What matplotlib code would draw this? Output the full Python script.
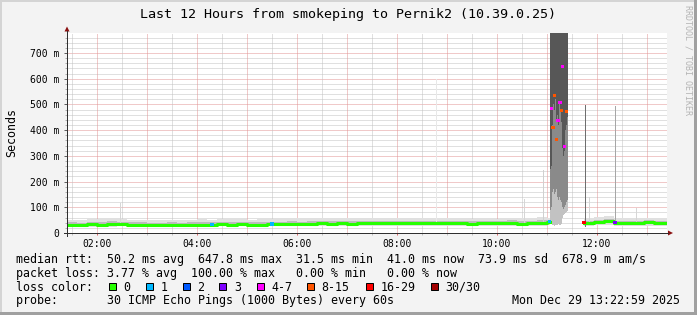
import numpy as np
import matplotlib
matplotlib.use('Agg')
import matplotlib.pyplot as plt
from matplotlib.patches import Rectangle, Polygon
from matplotlib.lines import Line2D

W, H = 697, 315
MONO = 'DejaVu Sans Mono'

# RTT values in ms
# segment before the outage: one value per 12 minutes starting 01:24
t_a0, dt_a, t_a_end = 1.4, 0.2, 11.06
med_a = [33, 32, 34, 33, 36, 34, 33, 33, 33, 32,
         33, 32, 33, 33, 33, 34, 33, 34, 33, 33,
         34, 35, 36, 35, 36, 37, 36, 37, 36, 37,
         37, 38, 37, 38, 37, 38, 38, 37, 38, 37,
         36, 37, 38, 37, 38, 36, 38, 39, 41]
lo_a = [26, 25, 24, 26, 25, 26, 25, 26, 27, 26,
        26, 25, 26, 27, 26, 26, 27, 26, 26, 27,
        26, 27, 28, 27, 28, 27, 28, 27, 28, 27,
        28, 29, 28, 28, 27, 28, 29, 28, 28, 27,
        28, 27, 28, 29, 28, 27, 28, 29, 30]
hi_a = [52, 50, 55, 54, 57, 56, 52, 51, 50, 49,
        51, 50, 52, 53, 51, 54, 55, 53, 52, 54,
        56, 55, 57, 58, 60, 57, 58, 56, 59, 57,
        58, 60, 56, 58, 57, 59, 60, 57, 58, 56,
        55, 57, 58, 56, 59, 57, 60, 62, 58]
core_lo_a = [30, 29, 30, 29, 31, 30, 29, 29, 29, 28,
             29, 28, 29, 29, 29, 30, 29, 30, 29, 29,
             30, 31, 32, 31, 32, 33, 32, 33, 32, 33,
             33, 34, 33, 34, 33, 34, 34, 33, 34, 33,
             32, 33, 34, 33, 34, 32, 34, 35, 36]
core_hi_a = [41, 40, 43, 41, 45, 42, 41, 41, 40, 40,
             41, 40, 41, 42, 41, 43, 42, 43, 41, 42,
             43, 44, 46, 44, 46, 47, 45, 47, 45, 46,
             47, 48, 46, 48, 46, 48, 48, 46, 48, 46,
             45, 47, 48, 46, 49, 45, 48, 50, 50]

# outage 11:04 - 11:24, one column per 72 s, smoke runs off the top
t_out0, dt_out = 11.05, 0.02
out_lo = [45, 40, 30, 30, 28, 30, 30, 32, 35, 33, 30, 35, 60, 70, 75, 78, 80, 85]
out_mid = [90, 100, 160, 170, 150, 160, 170, 140, 130, 140, 130, 120, 100, 95, 100, 110, 120, 130]
out_core = [250, 260, 420, 500, 480, 520, 440, 460, 420, 500, 470, 430, 330, 300, 320, 400, 420, 450]
out_top = 800

# after the gap: 12 minute values from 11:44
t_c0, dt_c, t_c_end = 11.74, 0.2, 13.40
med_c = [40, 42, 45, 40, 40, 39, 41, 38, 39]
lo_c = [28, 30, 31, 28, 29, 28, 29, 27, 28]
hi_c = [60, 62, 65, 58, 59, 57, 60, 56, 58]
core_lo_c = [34, 36, 38, 34, 34, 33, 35, 33, 33]
core_hi_c = [47, 50, 53, 47, 48, 46, 49, 45, 47]

# single smoke spikes
spike_t = [2.46, 8.78, 10.54, 10.92, 11.76, 11.84, 12.36, 12.78]
spike_lo = [30, 30, 30, 30, 23, 30, 50, 30]
spike_hi = [118, 600, 134, 245, 498, 140, 494, 97]
spike_c = ['#d6d6d6', '#e8e8e8', '#d6d6d6', '#d0d0d0', '#6e6e6e', '#d6d6d6', '#a6a6a6', '#d6d6d6']

# medians with packet loss
loss_t = [4.30, 5.50, 11.05, 11.086, 11.12, 11.154, 11.186, 11.22, 11.26,
          11.286, 11.314, 11.354, 11.386, 11.74, 12.36]
loss_ms = [34, 35, 43, 485, 410, 534, 364, 436, 508, 478, 646, 337, 472, 42, 42]
loss_cls = [1, 1, 1, 4, 5, 5, 5, 4, 4, 5, 4, 4, 5, 6, 3]

loss_labels = ['0', '1', '2', '3', '4-7', '8-15', '16-29', '30/30']
loss_colors = ['#26ff00', '#00b8ff', '#0059ff', '#7e00ff', '#ff00ff', '#ff5500', '#ff0000', '#a10000']
loss_box_x = [108.5, 145.7, 182.7, 219.3, 256.7, 307.2, 365.7, 430.7]

y_ticks = [0, 100, 200, 300, 400, 500, 600, 700]
y_ticklabels = ['0', '100 m', '200 m', '300 m', '400 m', '500 m', '600 m', '700 m']
x_ticks = [2, 4, 6, 8, 10, 12]
x_ticklabels = ['02:00', '04:00', '06:00', '08:00', '10:00', '12:00']

title = 'Last 12 Hours from smokeping to Pernik2 (10.39.0.25)'
row_rtt = 'median rtt:  50.2 ms avg  647.8 ms max  31.5 ms min  41.0 ms now  73.9 ms sd  678.9 m am/s'
row_loss = 'packet loss: 3.77 % avg  100.00 % max   0.00 % min   0.00 % now'
row_probe = 'probe:       30 ICMP Echo Pings (1000 Bytes) every 60s'
stamp = 'Mon Dec 29 13:22:59 2025'


def px(x, y):
    return x / W, 1 - y / H


def steps(t0, dt, vals, t_end):
    x = np.append(t0 + dt * np.arange(len(vals)), t_end)
    y = np.append(vals, vals[-1])
    return x, y


fig = plt.figure(figsize=(W / 100, H / 100), dpi=100, facecolor='#f3f3f3')
ax = fig.add_axes([67 / W, (H - 233) / H, 600 / W, 200 / H], facecolor='white')
ax.set_xlim(1.4, 13.4)
ax.set_ylim(0, 777.8)
for s in ax.spines.values():
    s.set_visible(False)

# dotted grid
for v in np.arange(20, 780, 20):
    major = v % 100 == 0
    ax.axhline(v, color='#e29494' if major else '#c2c2c2', lw=0.72,
               ls=(0, (1, 1)), zorder=0.5)
for v in np.arange(1.5, 13.4, 0.5):
    major = v % 1 == 0
    ax.axvline(v, color='#e29494' if major else '#c2c2c2', lw=0.72,
               ls=(0, (1, 1)), zorder=0.5)

# smoke
for seg in [(t_a0, dt_a, lo_a, hi_a, core_lo_a, core_hi_a, t_a_end),
            (t_c0, dt_c, lo_c, hi_c, core_lo_c, core_hi_c, t_c_end)]:
    t0, dt, lo, hi, clo, chi, te = seg
    x, ylo = steps(t0, dt, lo, te)
    _, yhi = steps(t0, dt, hi, te)
    ax.fill_between(x, ylo, yhi, step='post', color='#e0e0e0', lw=0, zorder=2)
    _, yclo = steps(t0, dt, clo, te)
    _, ychi = steps(t0, dt, chi, te)
    ax.fill_between(x, yclo, ychi, step='post', color='#bcbcbc', lw=0, zorder=2.1)

ax.bar(spike_t, np.subtract(spike_hi, spike_lo), bottom=spike_lo, width=0.025,
       color=spike_c, align='edge', lw=0, zorder=2.2)

t_out = t_out0 + dt_out * np.arange(len(out_lo))
ax.bar(t_out, out_top - np.array(out_lo), bottom=out_lo, width=dt_out, align='edge',
       color='#c2c2c2', lw=0, zorder=2.3)
ax.bar(t_out, out_top - np.array(out_mid), bottom=out_mid, width=dt_out, align='edge',
       color='#8a8a8a', lw=0, zorder=2.4)
ax.bar(t_out, out_top - np.array(out_core), bottom=out_core, width=dt_out, align='edge',
       color='#575757', lw=0, zorder=2.5)

# median
for t0, dt, med, te in [(t_a0, dt_a, med_a, t_a_end), (t_c0, dt_c, med_c, t_c_end)]:
    x, y = steps(t0, dt, med, te)
    ax.step(x, y, where='post', color=loss_colors[0], lw=2.2, zorder=3)

ax.scatter(loss_t, loss_ms, s=5, marker='s', lw=0,
           c=[loss_colors[i] for i in loss_cls], zorder=4)

# ticks
ax.set_yticks(y_ticks, y_ticklabels)
ax.set_yticks(np.arange(20, 780, 20), minor=True)
ax.set_xticks(x_ticks, x_ticklabels)
ax.set_xticks(np.arange(1.5, 13.4, 0.5), minor=True)
ax.tick_params(axis='y', which='major', length=2.5, width=0.72, color='#606060',
               pad=3.2, labelsize=7)
ax.tick_params(axis='y', which='minor', length=1.5, width=0.72, color='#b0b0b0')
ax.tick_params(axis='x', which='major', length=1.6, width=0.72, color='#e06060',
               pad=2.8, labelsize=7)
ax.tick_params(axis='x', which='minor', length=1.6, width=0.72, color='#c0c0c0')
for lab in ax.get_xticklabels() + ax.get_yticklabels():
    lab.set_fontfamily(MONO)

# axes with arrow heads
fig.add_artist(Line2D(*zip(px(67, 236), px(67, 31)), color='#303030', lw=0.72))
fig.add_artist(Line2D(*zip(px(64, 233), px(668, 233)), color='#303030', lw=0.72))
fig.add_artist(Polygon([px(64.5, 31.5), px(69.5, 31.5), px(67, 26.5)],
                       closed=True, color='#8a1010', lw=0))
fig.add_artist(Polygon([px(668, 230.5), px(668, 235.5), px(673, 233)],
                       closed=True, color='#8a1010', lw=0))

# texts
fig.text(*px(348.5, 18.3), title, ha='center', va='baseline', fontsize=9.6,
         family=MONO, color='black')
fig.text(*px(11.5, 132.5), 'Seconds', rotation=90, ha='center', va='center',
         fontsize=8.4, family=MONO)
fig.text(*px(688, 5), 'RRDTOOL / TOBI OETIKER', rotation=270, ha='center', va='top',
         fontsize=6, family=MONO, color='#b4b4b4')

fig.text(*px(16, 263.4), row_rtt, ha='left', va='baseline', fontsize=8.4, family=MONO)
fig.text(*px(16, 277.2), row_loss, ha='left', va='baseline', fontsize=8.4, family=MONO)
fig.text(*px(16, 290.9), 'loss color:', ha='left', va='baseline', fontsize=8.4, family=MONO)
fig.text(*px(16, 304.4), row_probe, ha='left', va='baseline', fontsize=8.4, family=MONO)
fig.text(*px(680, 304.4), stamp, ha='right', va='baseline', fontsize=8.4, family=MONO)

for bx, lab, col in zip(loss_box_x, loss_labels, loss_colors):
    x0, y0 = px(bx, 290.3)
    fig.add_artist(Rectangle((x0, y0), 7 / W, 7 / H, facecolor=col,
                             edgecolor='black', lw=0.72))
    fig.text(*px(bx + 14.5, 290.9), lab, ha='left', va='baseline', fontsize=8.4,
             family=MONO)

# frame around the image
fig.add_artist(Rectangle((0, 0), 2 / W, 1, color='#d4d4d4', lw=0))
fig.add_artist(Rectangle((0, 1 - 2 / H), 1, 2 / H, color='#d4d4d4', lw=0))
fig.add_artist(Rectangle((1 - 3 / W, 0), 3 / W, 1, color='#a0a0a0', lw=0))
fig.add_artist(Rectangle((0, 0), 1, 3 / H, color='#a0a0a0', lw=0))

fig.savefig('out.png', dpi=100, facecolor=fig.get_facecolor())
